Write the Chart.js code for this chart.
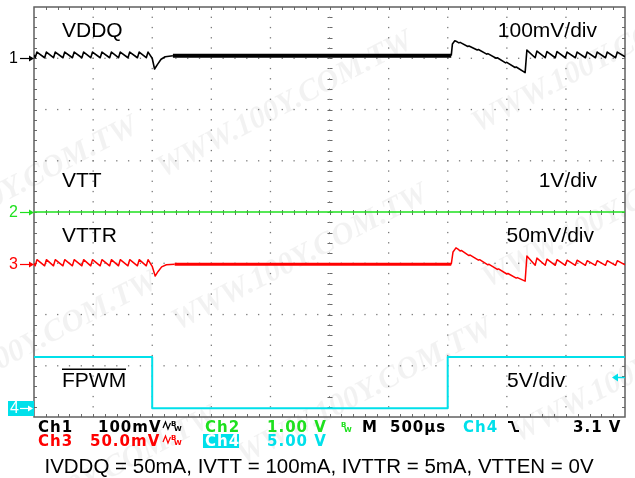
<!DOCTYPE html>
<html>
<head>
<meta charset="utf-8">
<script src="https://cdn.jsdelivr.net/npm/chart.js@4.4.1/dist/chart.umd.min.js"></script>
<style>
  html, body { margin: 0; padding: 0; background: #fff; }
  canvas { display: block; }
</style>
</head>
<body>
<canvas id="scope" width="635" height="478"></canvas>
<script>
// time in divisions (500us/div), level in divisions from the bottom of the screen
const ch1Time = [0.00, 0.02, 0.05, 0.18, 0.21, 0.33, 0.36, 0.49, 0.52, 0.65, 0.68, 0.81, 0.84,
  0.96, 0.99, 1.12, 1.15, 1.28, 1.31, 1.43, 1.46, 1.59, 1.62, 1.75, 1.78, 1.90, 1.93,
  2.00, 2.04, 2.09, 2.15, 2.22, 2.35, 7.06,
  7.08, 7.12, 7.16, 7.19, 7.21, 7.34, 7.36, 7.50, 7.52, 7.66, 7.68, 7.82, 7.84, 7.98, 8.00,
  8.14, 8.16, 8.31, 8.34, 8.48, 8.51, 8.65, 8.68, 8.82, 8.85, 8.99, 9.02, 9.16, 9.19, 9.33,
  9.36, 9.50, 9.53, 9.67, 9.70, 9.84, 9.87, 10.00];
const ch1Level = [7.07, 7.01, 7.12, 7.01, 7.12, 7.01, 7.12, 7.01, 7.12, 7.01, 7.12, 7.01, 7.12,
  7.01, 7.12, 7.01, 7.12, 7.01, 7.12, 7.01, 7.12, 7.01, 7.12, 7.01, 7.12, 7.01, 7.12,
  7.00, 6.79, 6.88, 6.98, 7.03, 7.05, 7.05,
  7.28, 7.34, 7.32, 7.30, 7.31, 7.23, 7.24, 7.16, 7.17, 7.08, 7.09, 7.00, 7.01, 6.91, 6.92,
  6.82, 6.83, 6.72, 7.16, 7.01, 7.14, 7.01, 7.13, 7.01, 7.13, 7.01, 7.12, 7.01, 7.12, 7.01,
  7.12, 7.01, 7.12, 7.01, 7.12, 7.01, 7.12, 7.03];

const ch2Time = [0, 10];
const ch2Level = [4.0, 4.0];

const ch3Time = [0.00, 0.02, 0.05, 0.18, 0.21, 0.33, 0.36, 0.49, 0.52, 0.65, 0.68, 0.81, 0.84,
  0.96, 0.99, 1.12, 1.15, 1.28, 1.31, 1.43, 1.46, 1.59, 1.62, 1.75, 1.78, 1.90, 1.93,
  2.00, 2.05, 2.10, 2.16, 2.24, 2.38, 7.06,
  7.09, 7.14, 7.18, 7.21, 7.23, 7.36, 7.38, 7.52, 7.54, 7.68, 7.70, 7.84, 7.86, 8.00, 8.02,
  8.16, 8.18, 8.31, 8.34, 8.48, 8.51, 8.65, 8.68, 8.82, 8.85, 8.99, 9.02, 9.16, 9.19, 9.33,
  9.36, 9.50, 9.53, 9.67, 9.70, 9.84, 9.87, 10.00];
const ch3Level = [3.00, 2.95, 3.07, 2.95, 3.07, 2.95, 3.07, 2.95, 3.07, 2.95, 3.07, 2.95, 3.07,
  2.95, 3.07, 2.95, 3.07, 2.95, 3.07, 2.95, 3.07, 2.95, 3.07, 2.95, 3.07, 2.95, 3.07,
  2.94, 2.75, 2.84, 2.93, 2.97, 2.98, 2.98,
  3.22, 3.30, 3.27, 3.24, 3.25, 3.15, 3.16, 3.06, 3.07, 2.97, 2.98, 2.88, 2.89, 2.79, 2.80,
  2.71, 2.72, 2.65, 3.14, 2.96, 3.10, 2.96, 3.08, 2.96, 3.07, 2.96, 3.06, 2.96, 3.06, 2.96,
  3.05, 2.96, 3.05, 2.96, 3.05, 2.96, 3.05, 2.97];

const ch4Time = [0, 2.0, 2.0, 7.0, 7.0, 10];
const ch4Level = [1.17, 1.17, 0.17, 0.17, 1.17, 1.17];

const refLevels = [7.0, 4.0, 2.98, 0.17];
const triggerLevel = 0.79;
const traceLabels = ['VDDQ', 'VTT', 'VTTR', 'FPWM'];
const scaleLabels = ['100mV/div', '1V/div', '50mV/div', '5V/div'];
const caption = 'IVDDQ = 50mA, IVTT = 100mA, IVTTR = 5mA, VTTEN = 0V';

const BLACK = '#000000';
const GREEN = '#1ee01e';
const RED = '#ff0000';
const CYAN = '#00e0ea';

function toPoints(t, v) {
  return t.map((x, i) => ({x: x, y: v[i]}));
}

function flatWidth(lo, hi, thick, thin) {
  return ctx => (ctx.p0.parsed.x >= lo && ctx.p1.parsed.x <= hi) ? thick : thin;
}

const watermarkPlugin = {
  id: 'watermark',
  beforeDraw(chart) {
    const ctx = chart.ctx;
    const spots = [[285, 105], [600, 60], [10, 190], [300, 258], [610, 215], [30, 345],
      [365, 392], [640, 370], [90, 480]];
    ctx.save();
    ctx.font = 'italic bold 31px "Liberation Serif"';
    ctx.fillStyle = 'rgba(0,0,0,0.05)';
    ctx.textAlign = 'center';
    ctx.textBaseline = 'middle';
    for (const [cx, cy] of spots) {
      ctx.save();
      ctx.translate(cx, cy);
      ctx.rotate(-0.48);
      ctx.fillText('WWW.100Y.COM.TW', 0, 0);
      ctx.restore();
    }
    ctx.restore();
  }
};

const graticulePlugin = {
  id: 'graticule',
  beforeDatasetsDraw(chart) {
    const {ctx, chartArea: a} = chart;
    const x = chart.scales.x, y = chart.scales.y;
    ctx.save();
    ctx.fillStyle = '#7a7a7a';
    // dotted division lines
    for (let i = 1; i < 10; i++) {
      if (i === 5) continue;
      const px = x.getPixelForValue(i);
      for (let j = 1; j < 40; j++) {
        ctx.fillRect(px - 0.6, y.getPixelForValue(j * 0.2) - 0.6, 1.3, 1.3);
      }
    }
    for (let j = 1; j < 8; j++) {
      if (j === 4) continue;
      const py = y.getPixelForValue(j);
      for (let i = 1; i < 50; i++) {
        ctx.fillRect(x.getPixelForValue(i * 0.2) - 0.6, py - 0.6, 1.3, 1.3);
      }
    }
    // center axes with minor ticks
    ctx.strokeStyle = '#6a6a6a';
    ctx.lineWidth = 1;
    const cx = x.getPixelForValue(5), cy = y.getPixelForValue(4);
    ctx.beginPath();
    for (let j = 1; j < 40; j++) {
      const py = Math.round(y.getPixelForValue(j * 0.2)) + 0.5;
      ctx.moveTo(cx - 2, py); ctx.lineTo(cx + 3, py);
    }
    for (let i = 1; i < 50; i++) {
      const px = Math.round(x.getPixelForValue(i * 0.2)) + 0.5;
      ctx.moveTo(px, cy - 2); ctx.lineTo(px, cy + 3);
    }
    for (let j = 1; j < 40; j++) {
      const py = Math.round(y.getPixelForValue(j * 0.2)) + 0.5;
      ctx.moveTo(a.left, py); ctx.lineTo(a.left + 3, py);
      ctx.moveTo(a.right - 3, py); ctx.lineTo(a.right, py);
    }
    for (let i = 1; i < 50; i++) {
      const px = Math.round(x.getPixelForValue(i * 0.2)) + 0.5;
      ctx.moveTo(px, a.top); ctx.lineTo(px, a.top + 3);
      ctx.moveTo(px, a.bottom - 3); ctx.lineTo(px, a.bottom);
    }
    ctx.stroke();
    ctx.fillStyle = '#8a8a8a';
    for (let i = 1; i < 50; i++) {
      ctx.fillRect(x.getPixelForValue(i * 0.2) - 0.5, cy - 0.5, 1, 1);
    }
    for (let j = 1; j < 40; j++) {
      ctx.fillRect(cx - 0.5, y.getPixelForValue(j * 0.2) - 0.5, 1, 1);
    }
    // frame
    ctx.strokeStyle = '#606060';
    ctx.lineWidth = 1.5;
    ctx.strokeRect(a.left, a.top, a.right - a.left, a.bottom - a.top);
    ctx.restore();
  }
};

function drawText(ctx, s, px, py, font, color, align) {
  ctx.font = font;
  ctx.fillStyle = color;
  ctx.textAlign = align || 'left';
  ctx.fillText(s, px, py);
}

function drawBw(ctx, px, py, color) {
  // small wave + BW marker
  ctx.strokeStyle = color;
  ctx.lineWidth = 1.2;
  ctx.beginPath();
  ctx.moveTo(px, py - 4);
  ctx.lineTo(px + 2.5, py - 10);
  ctx.lineTo(px + 5, py - 3);
  ctx.lineTo(px + 7.5, py - 9);
  ctx.stroke();
  drawText(ctx, 'B', px + 8, py - 6, 'bold 7px "DejaVu Sans"', color);
  drawText(ctx, 'W', px + 11, py - 1, 'bold 7px "DejaVu Sans"', color);
}

const labelsPlugin = {
  id: 'labels',
  afterDraw(chart) {
    const {ctx, chartArea: a} = chart;
    const y = chart.scales.y;
    ctx.save();
    ctx.textBaseline = 'alphabetic';
    const big = '21px "Liberation Sans"';
    const baselines = [37, 187, 242, 387];
    traceLabels.forEach((s, i) => drawText(ctx, s, 62, baselines[i], big, BLACK));
    drawText(ctx, scaleLabels[0], 597, baselines[0], big, BLACK, 'right');
    drawText(ctx, scaleLabels[1], 597, baselines[1], big, BLACK, 'right');
    drawText(ctx, scaleLabels[2], 594, baselines[2], big, BLACK, 'right');
    drawText(ctx, scaleLabels[3], 507, baselines[3], big, BLACK);
    // overline for FPWM
    ctx.fillStyle = BLACK;
    ctx.fillRect(62, 368.5, 64, 1.5);

    // channel ground markers
    const markColors = [BLACK, GREEN, RED];
    ctx.textBaseline = 'middle';
    markColors.forEach((c, i) => {
      const py = Math.round(y.getPixelForValue(refLevels[i]));
      drawText(ctx, String(i + 1), 9, py + 1, '16px "Liberation Sans"', c);
      ctx.strokeStyle = c;
      ctx.lineWidth = 1.2;
      ctx.beginPath();
      ctx.moveTo(20, py + 0.5); ctx.lineTo(31, py + 0.5);
      ctx.stroke();
      ctx.fillStyle = c;
      ctx.beginPath();
      ctx.moveTo(34, py + 0.5); ctx.lineTo(29, py - 2.5); ctx.lineTo(29, py + 3.5);
      ctx.closePath();
      ctx.fill();
    });
    const p4 = Math.round(y.getPixelForValue(refLevels[3]));
    ctx.fillStyle = CYAN;
    ctx.fillRect(8, p4 - 7, 26, 15);
    drawText(ctx, '4', 10, p4 + 1, '16px "Liberation Sans"', '#ffffff');
    ctx.strokeStyle = '#ffffff';
    ctx.beginPath();
    ctx.moveTo(20, p4 + 0.5); ctx.lineTo(30, p4 + 0.5);
    ctx.stroke();
    ctx.fillStyle = '#ffffff';
    ctx.beginPath();
    ctx.moveTo(33, p4 + 0.5); ctx.lineTo(28, p4 - 2.5); ctx.lineTo(28, p4 + 3.5);
    ctx.closePath();
    ctx.fill();

    // trigger level marker
    const pt = Math.round(y.getPixelForValue(triggerLevel));
    ctx.strokeStyle = CYAN;
    ctx.lineWidth = 1.5;
    ctx.beginPath();
    ctx.moveTo(616, pt + 0.5); ctx.lineTo(625, pt + 0.5);
    ctx.stroke();
    ctx.fillStyle = CYAN;
    ctx.beginPath();
    ctx.moveTo(612, pt + 0.5); ctx.lineTo(618, pt - 3.5); ctx.lineTo(618, pt + 4.5);
    ctx.closePath();
    ctx.fill();

    // status readout
    ctx.textBaseline = 'alphabetic';
    ctx.letterSpacing = '1px';
    const mono = 'bold 15px "DejaVu Sans"';
    const l1 = 432, l2 = 446;
    drawText(ctx, 'Ch1', 38, l1, mono, BLACK);
    drawText(ctx, '100mV', 98, l1, mono, BLACK);
    drawBw(ctx, 163, l1, BLACK);
    drawText(ctx, 'Ch2', 205, l1, mono, GREEN);
    drawText(ctx, '1.00 V', 267, l1, mono, GREEN);
    ctx.letterSpacing = '0px';
    drawText(ctx, 'B', 341, l1 - 5, 'bold 7px "DejaVu Sans"', GREEN);
    drawText(ctx, 'W', 344, l1, 'bold 7px "DejaVu Sans"', GREEN);
    ctx.letterSpacing = '1px';
    drawText(ctx, 'M', 362, l1, mono, BLACK);
    drawText(ctx, '500\u00b5s', 390, l1, mono, BLACK);
    drawText(ctx, 'Ch4', 463, l1, mono, CYAN);
    ctx.strokeStyle = BLACK;
    ctx.lineWidth = 2;
    ctx.beginPath();
    ctx.moveTo(508, l1 - 10); ctx.lineTo(512, l1 - 10);
    ctx.lineTo(515, l1 - 1); ctx.lineTo(519, l1 - 1);
    ctx.stroke();
    drawText(ctx, '3.1 V', 573, l1, mono, BLACK);

    drawText(ctx, 'Ch3', 38, l2, mono, RED);
    drawText(ctx, '50.0mV', 90, l2, mono, RED);
    drawBw(ctx, 163, l2, RED);
    ctx.fillStyle = CYAN;
    ctx.fillRect(203, l2 - 12, 36, 14);
    drawText(ctx, 'Ch4', 205, l2, mono, '#ffffff');
    drawText(ctx, '5.00 V', 267, l2, mono, CYAN);
    ctx.letterSpacing = '0px';

    drawText(ctx, caption, 319, 473, '20.5px "Liberation Sans"', BLACK, 'center');
    ctx.restore();
  }
};

new Chart(document.getElementById('scope'), {
  type: 'line',
  data: {
    datasets: [
      {
        label: 'VDDQ',
        data: toPoints(ch1Time, ch1Level),
        borderColor: BLACK,
        borderWidth: 1.6,
        segment: {borderWidth: flatWidth(2.3, 7.07, 4, 1.6)}
      },
      {
        label: 'VTT',
        data: toPoints(ch2Time, ch2Level),
        borderColor: GREEN,
        borderWidth: 1.5
      },
      {
        label: 'VTTR',
        data: toPoints(ch3Time, ch3Level),
        borderColor: RED,
        borderWidth: 1.5,
        segment: {borderWidth: flatWidth(2.3, 7.07, 3, 1.5)}
      },
      {
        label: 'FPWM',
        data: toPoints(ch4Time, ch4Level),
        borderColor: CYAN,
        borderWidth: 2
      }
    ]
  },
  options: {
    responsive: false,
    animation: false,
    parsing: false,
    layout: {padding: {left: 34, top: 7, right: 10, bottom: 61}},
    elements: {
      point: {radius: 0},
      line: {tension: 0, borderJoinStyle: 'round'}
    },
    plugins: {
      legend: {display: false},
      tooltip: {enabled: false}
    },
    scales: {
      x: {type: 'linear', min: 0, max: 10, display: false},
      y: {type: 'linear', min: 0, max: 8, display: false}
    }
  },
  plugins: [watermarkPlugin, graticulePlugin, labelsPlugin]
});
</script>
</body>
</html>
